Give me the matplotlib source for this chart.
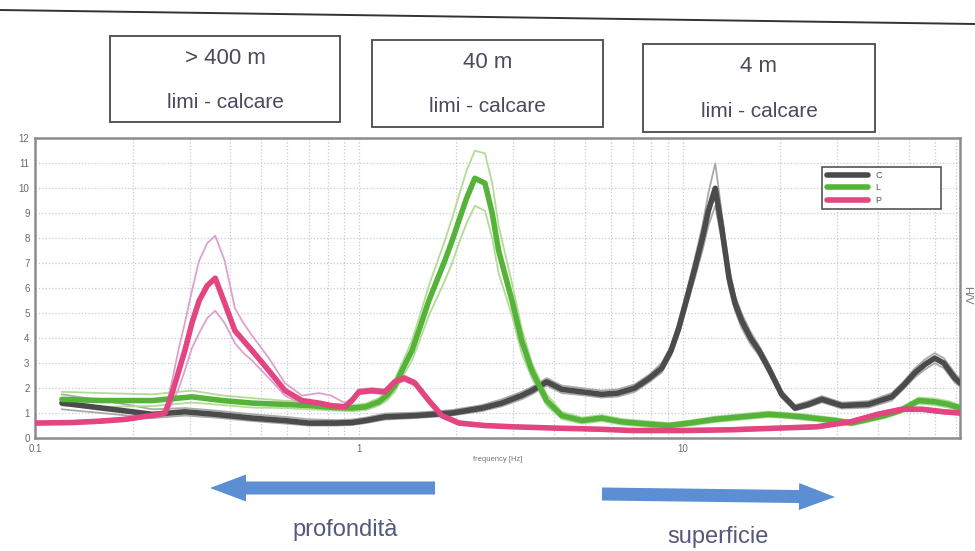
import matplotlib.pyplot as plt
from matplotlib.patches import Rectangle, FancyArrow
from matplotlib.lines import Line2D

plt.rcParams['font.family'] = ['Liberation Sans', 'DejaVu Sans']

# P: curva media, limite superiore e inferiore
p_freq = [0.101, 0.13, 0.161, 0.19, 0.214, 0.235, 0.252, 0.265, 0.278, 0.290,
          0.305, 0.321, 0.340, 0.360, 0.385, 0.414, 0.440, 0.468, 0.527, 0.591,
          0.667, 0.753, 0.82, 0.905, 0.951, 1.0, 1.097, 1.203, 1.29, 1.38,
          1.489, 1.644, 1.804, 2.035, 2.45, 3.0, 4.0, 5.62, 7.0, 10.0,
          14.0, 20.0, 26.0, 33.0, 40.0, 47.4, 55.0, 64.0, 72.0]
p_mean = [0.6, 0.62, 0.68, 0.75, 0.85, 0.92, 1.0, 1.8, 2.7, 3.5,
          4.6, 5.5, 6.1, 6.4, 5.4, 4.3, 3.9, 3.5, 2.7, 1.9,
          1.5, 1.4, 1.3, 1.25, 1.5, 1.85, 1.9, 1.85, 2.25, 2.4,
          2.2, 1.5, 0.9, 0.6, 0.5, 0.45, 0.4, 0.35, 0.3, 0.3,
          0.33, 0.4, 0.45, 0.65, 0.95, 1.15, 1.15, 1.05, 1.0]
p_hi = [0.65, 0.68, 0.74, 0.82, 0.92, 1.0, 1.1, 2.3, 3.6, 4.6,
        5.9, 7.1, 7.8, 8.1, 7.1, 5.2, 4.6, 4.1, 3.2, 2.2,
        1.7, 1.8, 1.7, 1.4, 1.6, 1.95, 2.0, 1.95, 2.35, 2.5,
        2.3, 1.6, 1.0, 0.68, 0.56, 0.5, 0.45, 0.4, 0.36, 0.36,
        0.4, 0.46, 0.52, 0.72, 1.02, 1.22, 1.22, 1.12, 1.06]
p_lo = [0.55, 0.57, 0.62, 0.68, 0.78, 0.85, 0.92, 1.4, 2.0, 2.7,
        3.6, 4.2, 4.8, 5.1, 4.6, 3.8, 3.4, 3.1, 2.4, 1.7,
        1.35, 1.2, 1.15, 1.12, 1.38, 1.75, 1.8, 1.75, 2.15, 2.28,
        2.1, 1.4, 0.82, 0.54, 0.45, 0.4, 0.35, 0.3, 0.25, 0.25,
        0.28, 0.35, 0.4, 0.6, 0.88, 1.08, 1.08, 0.98, 0.94]

# L
l_freq = [0.121, 0.161, 0.230, 0.305, 0.380, 0.468, 0.580, 0.700, 0.850, 0.951,
          1.05, 1.153, 1.22, 1.291, 1.37, 1.458, 1.55, 1.644, 1.74, 1.842,
          1.94, 2.035, 2.15, 2.28, 2.45, 2.58, 2.70, 2.97, 3.18, 3.42,
          3.80, 4.23, 4.88, 5.62, 6.48, 8.0, 9.06, 10.5, 12.6, 15.2,
          18.4, 21.0, 23.3, 29.5, 33.2, 42.0, 47.0, 53.5, 60.0, 66.0, 72.0]
l_mean = [1.55, 1.5, 1.5, 1.65, 1.5, 1.4, 1.35, 1.3, 1.22, 1.2,
          1.25, 1.45, 1.7, 2.1, 2.8, 3.5, 4.5, 5.5, 6.3, 7.1,
          7.9, 8.7, 9.6, 10.4, 10.2, 9.0, 7.5, 5.5, 3.9, 2.7,
          1.5, 0.9, 0.7, 0.8, 0.65, 0.55, 0.5, 0.6, 0.75, 0.85,
          0.95, 0.9, 0.85, 0.7, 0.6, 0.9, 1.1, 1.5, 1.45, 1.35, 1.2]
l_hi = [1.85, 1.8, 1.75, 1.9, 1.7, 1.6, 1.5, 1.45, 1.35, 1.32,
        1.38, 1.6, 1.9, 2.35, 3.1, 3.9, 5.0, 6.1, 7.0, 7.9,
        8.8, 9.7, 10.7, 11.5, 11.4, 10.2, 8.5, 6.2, 4.4, 3.0,
        1.75, 1.05, 0.82, 0.92, 0.76, 0.66, 0.6, 0.7, 0.86, 0.96,
        1.06, 1.0, 0.96, 0.8, 0.7, 1.0, 1.2, 1.62, 1.58, 1.48, 1.32]
l_lo = [1.3, 1.25, 1.28, 1.42, 1.32, 1.22, 1.2, 1.15, 1.1, 1.08,
        1.12, 1.3, 1.5, 1.85, 2.5, 3.1, 4.0, 4.9, 5.6, 6.3,
        7.0, 7.8, 8.6, 9.3, 9.1, 8.0, 6.6, 4.9, 3.4, 2.4,
        1.3, 0.76, 0.58, 0.68, 0.54, 0.44, 0.4, 0.5, 0.64, 0.74,
        0.84, 0.8, 0.74, 0.6, 0.5, 0.8, 1.0, 1.38, 1.32, 1.22, 1.08]

# C
c_freq = [0.121, 0.161, 0.200, 0.230, 0.290, 0.360, 0.468, 0.590, 0.701, 0.850,
          0.951, 1.05, 1.203, 1.5, 1.936, 2.4, 2.76, 3.18, 3.42, 3.80,
          4.23, 4.88, 5.62, 6.3, 7.11, 7.9, 8.61, 9.2, 9.72, 10.3,
          10.9, 11.5, 12.0, 12.6, 13.2, 13.9, 14.5, 15.2, 16.2, 17.2,
          18.4, 20.2, 22.2, 24.5, 26.9, 31.0, 37.5, 44.2, 48.0, 52.0,
          56.0, 60.0, 64.0, 69.2, 72.0]
c_mean = [1.4, 1.2, 1.05, 0.95, 1.05, 0.95, 0.8, 0.7, 0.6, 0.6,
          0.62, 0.7, 0.85, 0.9, 1.0, 1.2, 1.4, 1.7, 1.9, 2.25,
          1.95, 1.85, 1.75, 1.8, 2.0, 2.4, 2.8, 3.5, 4.4, 5.6,
          6.8, 8.0, 9.1, 10.0, 8.4, 6.4, 5.4, 4.7, 4.0, 3.5,
          2.8, 1.75, 1.2, 1.35, 1.55, 1.3, 1.35, 1.65, 2.1, 2.6,
          2.95, 3.2, 3.0, 2.4, 2.2]
c_hi = [1.75, 1.5, 1.3, 1.15, 1.2, 1.1, 0.95, 0.85, 0.75, 0.72,
        0.74, 0.82, 0.98, 1.02, 1.12, 1.32, 1.55, 1.85, 2.05, 2.4,
        2.1, 2.0, 1.9, 1.95, 2.15, 2.55, 3.0, 3.7, 4.65, 5.9,
        7.2, 8.5, 9.8, 11.0, 9.0, 6.8, 5.7, 5.0, 4.25, 3.7,
        3.0, 1.9, 1.32, 1.48, 1.68, 1.42, 1.48, 1.8, 2.25, 2.78,
        3.15, 3.4, 3.2, 2.6, 2.35]
c_lo = [1.15, 1.0, 0.88, 0.8, 0.9, 0.82, 0.68, 0.58, 0.5, 0.5,
        0.52, 0.6, 0.74, 0.8, 0.9, 1.08, 1.27, 1.55, 1.75, 2.1,
        1.8, 1.72, 1.62, 1.66, 1.85, 2.25, 2.62, 3.3, 4.15, 5.3,
        6.4, 7.5, 8.5, 9.3, 7.9, 6.0, 5.1, 4.4, 3.75, 3.3,
        2.62, 1.62, 1.1, 1.24, 1.43, 1.18, 1.22, 1.5, 1.95, 2.42,
        2.75, 3.0, 2.8, 2.22, 2.05]

x_ticks = [0.1, 1, 10]
x_ticklabels = ['0.1', '1', '10']
y_ticks = list(range(13))

box_depth = ['> 400 m', '40 m', '4 m']
box_soil = ['limi - calcare', 'limi - calcare', 'limi - calcare']

fig = plt.figure(figsize=(9.75, 5.51), dpi=100)

# --- grafico H/V ---
ax = fig.add_axes([0.036, 0.205, 0.949, 0.544])

curves = [
    ('C', c_freq, c_mean, c_hi, c_lo, '#4b4b4b', '#a9a9a9'),
    ('L', l_freq, l_mean, l_hi, l_lo, '#55b33a', '#b2dc95'),
    ('P', p_freq, p_mean, p_hi, p_lo, '#e2457f', '#dca2cf'),
]
handles = []
for lab, fr, m, hi, lo, col, light in curves:
    ax.plot(fr, hi, color=light, lw=1.3, zorder=2)
    ax.plot(fr, lo, color=light, lw=1.3, zorder=2)
    h, = ax.plot(fr, m, color=col, lw=4.0, zorder=3, solid_joinstyle='round',
                 solid_capstyle='round', label=lab)
    handles.append(h)

ax.set_xscale('log')
ax.set_xlim(0.1, 72)
ax.set_ylim(0, 12)
ax.set_yticks(y_ticks)
ax.set_xticks(x_ticks)
ax.set_xticklabels(x_ticklabels)
ax.grid(True, which='both', linestyle=':', color='#c3c9df', lw=0.9)
ax.set_axisbelow(True)
ax.tick_params(which='both', length=0, labelsize=7, colors='#6a6a6a', pad=4)
for s in ax.spines.values():
    s.set_color('#8c8c8c')
    s.set_linewidth(1.8)

ax.set_xlabel('frequency [Hz]', fontsize=5.5, color='#777777', labelpad=2)

leg = ax.legend(handles=handles, loc='upper left',
                bbox_to_anchor=(0.846, 0.753, 0.138, 0.167), mode='expand',
                fontsize=6.5, handlelength=4.6, handleheight=0.6,
                labelspacing=0.35, borderpad=0.5, fancybox=False,
                edgecolor='#555555', labelcolor='#555555', framealpha=1)
leg.get_frame().set_linewidth(1.2)

# --- riquadri, frecce e scritte (coordinate in pixel) ---
ov = fig.add_axes([0, 0, 1, 1], facecolor='none')
ov.set_xlim(0, 975)
ov.set_ylim(551, 0)
ov.axis('off')

ov.add_line(Line2D([0, 975], [10, 24], color='#333333', lw=1.4))

ov.text(967, 295, 'H/V', rotation=270, ha='center', va='center',
        fontsize=8, color='#777777')

boxes = [(110, 36, 230, 86), (372, 40, 231, 87), (643, 44, 232, 88)]
for (bx, by, bw, bh), d, s in zip(boxes, box_depth, box_soil):
    ov.add_patch(Rectangle((bx, by), bw, bh, fill=False, ec='#4a4a4a', lw=1.3))
    ov.text(bx + bw / 2, by + bh * 0.26, d, ha='center', va='center',
            fontsize=16, color='#4a4a5c')
    ov.text(bx + bw / 2, by + bh * 0.77, s, ha='center', va='center',
            fontsize=15, color='#4a4a5c')

arrow_col = '#5b8ed3'
ov.add_patch(FancyArrow(435, 488, -225, 0, width=13, head_width=27,
                        head_length=36, length_includes_head=True,
                        color=arrow_col, lw=0))
ov.add_patch(FancyArrow(602, 494, 233, 3, width=13, head_width=27,
                        head_length=36, length_includes_head=True,
                        color=arrow_col, lw=0))

ov.text(345, 530, 'profondità', ha='center', va='center', fontsize=17,
        color='#55587a')
ov.text(718, 537, 'superficie', ha='center', va='center', fontsize=17,
        color='#55587a')

plt.savefig('out.png', dpi=100)
